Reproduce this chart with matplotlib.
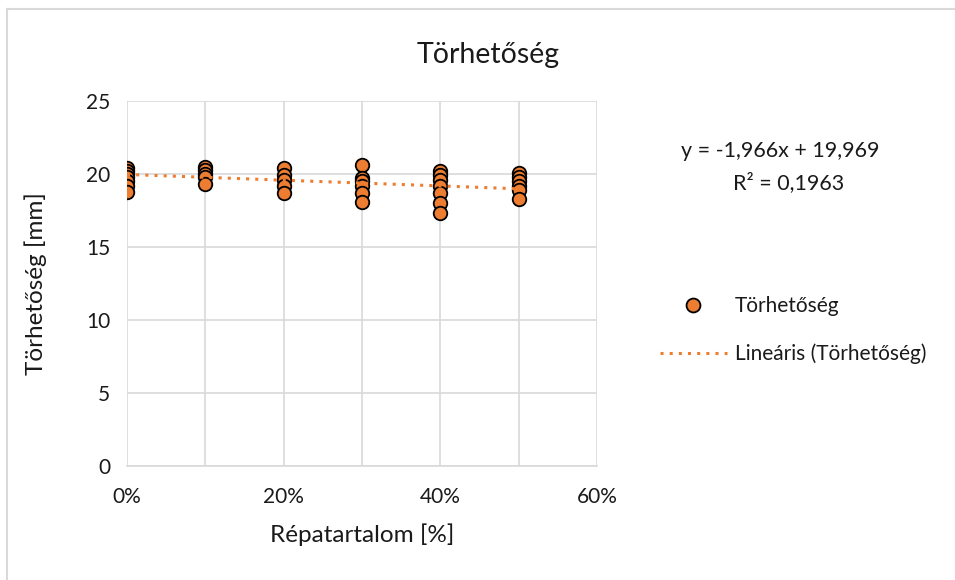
import matplotlib.pyplot as plt
from matplotlib.lines import Line2D
from matplotlib.ticker import MultipleLocator, FuncFormatter

plt.rcParams['font.family'] = ['Lato', 'DejaVu Sans']

# Répatartalom (fraction) and measured Törhetőség [mm]
x_0 = [0.0] * 7
y_0 = [20.4, 20.2, 20.0, 19.8, 19.5, 19.2, 18.8]
x_10 = [0.1] * 5
y_10 = [20.5, 20.3, 20.0, 19.8, 19.3]
x_20 = [0.2] * 5
y_20 = [20.4, 19.9, 19.6, 19.2, 18.7]
x_30 = [0.3] * 6
y_30 = [20.6, 19.7, 19.5, 19.2, 18.7, 18.1]
x_40 = [0.4] * 7
y_40 = [20.2, 19.9, 19.6, 19.2, 18.7, 18.0, 17.3]
x_50 = [0.5] * 6
y_50 = [20.1, 19.8, 19.5, 19.2, 18.9, 18.3]

xs = x_0 + x_10 + x_20 + x_30 + x_40 + x_50
ys = y_0 + y_10 + y_20 + y_30 + y_40 + y_50

slope = -1.966
intercept = 19.969
r2 = 0.1963

orange = '#ED7D31'
grid = '#D9D9D9'
txt = '#1a1a1a'

fig = plt.figure(figsize=(9.55, 5.8), dpi=100)
ax = fig.add_axes([127 / 955, 1 - 466 / 580, 470 / 955, 365 / 580])

ax.scatter(xs, ys, s=95, color=orange, edgecolor='black', linewidth=1.3, zorder=3)
tx = [min(xs), max(xs)]
ty = [slope * v + intercept for v in tx]
ax.plot(tx, ty, color=orange, linestyle=(0, (1, 2)), linewidth=2.2, zorder=4)

ax.set_xlim(0, 0.6)
ax.set_ylim(0, 25)
ax.xaxis.set_major_locator(MultipleLocator(0.2))
ax.xaxis.set_minor_locator(MultipleLocator(0.1))
ax.yaxis.set_major_locator(MultipleLocator(5))
ax.xaxis.set_major_formatter(FuncFormatter(lambda v, p: f'{v * 100:.0f}%'))
ax.grid(True, which='both', color=grid, linewidth=1.2, zorder=0)
ax.tick_params(which='both', length=0, labelsize=15, colors=txt, pad=12)
ax.tick_params(axis='x', pad=15)
for s in ['top', 'right', 'left']:
    ax.spines[s].set_visible(False)
ax.spines['bottom'].set_color(grid)
ax.spines['bottom'].set_linewidth(1.2)
ax.set_axisbelow(True)

ax.set_xlabel('Répatartalom [%]', fontsize=17.5, color=txt, labelpad=12)
ax.set_ylabel('Törhetőség [mm]', fontsize=17.5, color=txt, labelpad=28)
fig.text(488 / 955, 1 - 55 / 580, 'Törhetőség', fontsize=20.5, color=txt,
         ha='center', va='center')

fig.text(780 / 955, 1 - 151 / 580, f'y = {slope:.3f}x + {intercept:.3f}'.replace('.', ','),
         fontsize=15.5, ha='center', va='center', color=txt)
fig.text(789 / 955, 1 - 183 / 580, f'R² = {r2:.4f}'.replace('.', ','),
         fontsize=15.5, ha='center', va='center', color=txt)

handles = [
    Line2D([], [], marker='o', linestyle='none', markersize=10, markerfacecolor=orange,
           markeredgecolor='black', markeredgewidth=1.3),
    Line2D([], [], color=orange, linestyle=(0, (1, 2)), linewidth=2.2),
]
fig.legend(handles, ['Törhetőség', 'Lineáris (Törhetőség)'], loc='center left',
           bbox_to_anchor=(660 / 955, 1 - 330 / 580), frameon=False, fontsize=15,
           handlelength=3.2, handletextpad=0.4, labelspacing=1.3, labelcolor=txt,
           borderpad=0, borderaxespad=0)

fig.add_artist(Line2D([7 / 955, 7 / 955], [0, 1 - 9 / 580], color='#D9D9D9', linewidth=1.5))
fig.add_artist(Line2D([7 / 955, 1], [1 - 9 / 580, 1 - 9 / 580], color='#D9D9D9', linewidth=1.5))

fig.savefig('out.png', dpi=100)
